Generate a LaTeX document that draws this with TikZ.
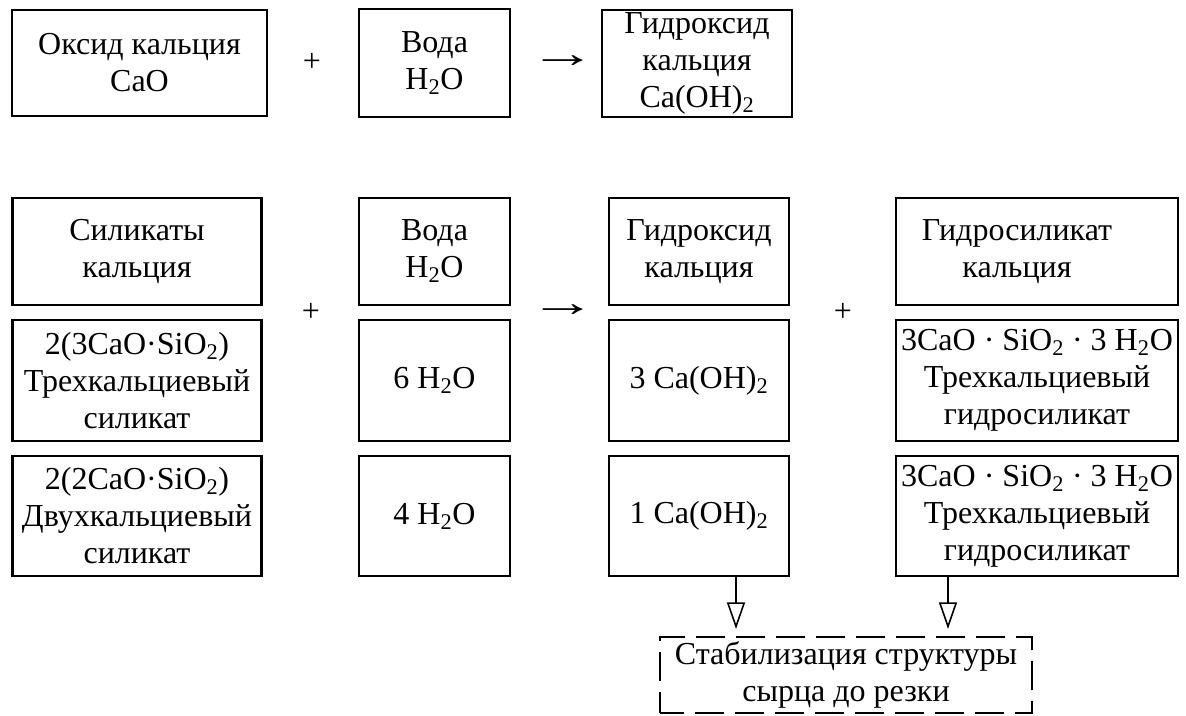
\documentclass[tikz,border=0pt]{standalone}
\usepackage{fontspec}
\setmainfont{Liberation Serif}
\usetikzlibrary{arrows.meta}
\begin{document}
\begin{tikzpicture}[x=0.75pt,y=-0.75pt,
  txt/.style={font=\fontsize{24}{27.75}\selectfont},
  box/.style={txt, draw, line width=2pt, inner sep=0pt, align=center},
  wh/.style 2 args={minimum width=#1*0.75pt, minimum height=#2*0.75pt},
  stabbox/.style={txt, draw, line width=2pt, dash pattern=on 22pt off 8pt, dash phase=4pt, inner sep=0pt, align=center},
  darr/.style={line width=1.2pt, -{Triangle[open, width=13.5pt, length=20pt, line width=1.2pt]}, shorten >=5pt},
  yields/.style={txt, inner sep=0pt}
]
\useasboundingbox (0,0) rectangle (1186,715);
% top row
\node[box, wh={255}{106}] (t1) at (139.5,63) {Оксид кальция\\CaO};
\node[txt] (p1) at (312,62) {+};
\node[box, wh={151}{108}] (t2) at (434.5,63) {Вода\\H\textsubscript{2}O};
\node[yields] (r1) at (563,62) {\scalebox{2.1}[1.3]{→}};
\node[box, wh={190}{107}] (t3) at (697,63.5) {Гидроксид\\кальция\\Ca(OH)\textsubscript{2}};
% second block
\node[box, wh={249}{107}] (a1) at (137,251.5) {Силикаты\\кальция};
\node[box, wh={249}{121}] (a2) at (137,380.5) {2(3CaO·SiO\textsubscript{2})\\Трехкальциевый\\силикат};
\node[box, wh={249}{120}] (a3) at (137,516) {2(2CaO·SiO\textsubscript{2})\\Двухкальциевый\\силикат};
\node[txt] (p2) at (311,312) {+};
\node[box, wh={151}{107}] (b1) at (434.5,251.5) {Вода\\H\textsubscript{2}O};
\node[box, wh={151}{121}] (b2) at (434.5,380.5) {6 H\textsubscript{2}O};
\node[box, wh={151}{120}] (b3) at (434.5,516) {4 H\textsubscript{2}O};
\node[yields] (r2) at (563,311) {\scalebox{2.1}[1.3]{→}};
\node[box, wh={180}{107}] (c1) at (699,251.5) {Гидроксид\\кальция};
\node[box, wh={180}{121}] (c2) at (699,380.5) {3 Ca(OH)\textsubscript{2}};
\node[box, wh={180}{120}] (c3) at (699,516) {1 Ca(OH)\textsubscript{2}};
\node[txt] (p3) at (843,312) {+};
\node[box, wh={282}{107}] (d1) at (1037,251.5) {\hspace*{-30pt}Гидросиликат\\\hspace*{-30pt}кальция};
\node[box, wh={282}{121}] (d2) at (1037,380.5) {3CaO · SiO\textsubscript{2} · 3 H\textsubscript{2}O\\Трехкальциевый\\гидросиликат};
\node[box, wh={282}{120}] (d3) at (1037,516) {3CaO · SiO\textsubscript{2} · 3 H\textsubscript{2}O\\Трехкальциевый\\гидросиликат};
% stabilisation
\node[stabbox, wh={372}{76}] (s) at (846,675) {Стабилизация структуры\\сырца до резки};
\draw[darr] ([xshift=37*0.75pt]c3.south) -- ([xshift=37*0.75pt]c3.south |- s.north);
\draw[darr] ([xshift=-89*0.75pt]d3.south) -- ([xshift=-89*0.75pt]d3.south |- s.north);
\end{tikzpicture}
\end{document}
